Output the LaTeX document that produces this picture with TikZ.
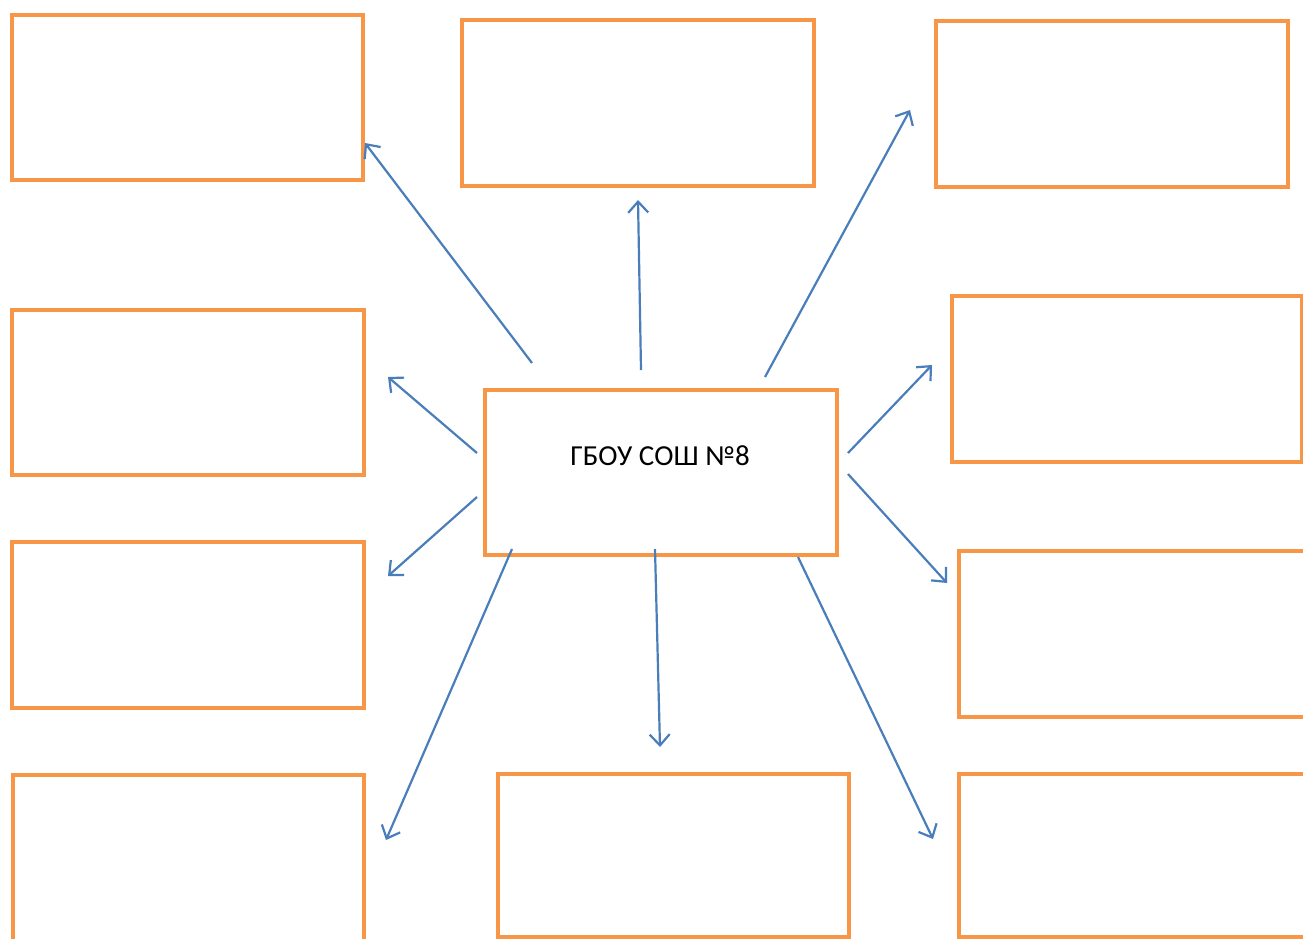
\documentclass[tikz,border=0pt]{standalone}
\usepackage{fontspec}
\setmainfont{Carlito}
\usetikzlibrary{arrows.meta}
\definecolor{boxorange}{HTML}{F79646}
\definecolor{arrowblue}{HTML}{4A7EBB}
\begin{document}
\begin{tikzpicture}[x=1pt,y=-1pt,
  box/.style={draw=boxorange,line width=4pt,fill=white,anchor=north west,inner sep=0pt,minimum width=352pt,minimum height=166pt},
  link/.style={draw=arrowblue,line width=2.2pt,-{Straight Barb[length=11pt,width=20pt,line width=2.2pt]}}]
\useasboundingbox (0,0) rectangle (1303,938);
\clip (0,0) rectangle (1303,938);
\fill[white] (0,0) rectangle (1303,938);
% boxes
\node[box,minimum width=351pt,minimum height=165pt] (b1) at (10,13) {};
\node[box] (b2) at (460,18) {};
\node[box] (b3) at (934,19) {};
\node[box,minimum height=165pt] (b4) at (10,308) {};
\node[box] (b5) at (10,540) {};
\node[box,minimum width=350pt] (b6) at (950,294) {};
\node[box,minimum width=351pt,minimum height=172pt] (b7) at (11,773) {};
\node[box,minimum width=362pt] (b8) at (957,549) {};
\node[box,minimum width=362pt,minimum height=163pt] (b9) at (957,772) {};
\node[box,minimum width=351pt,minimum height=163pt] (b10) at (496,772) {};
\node[box,minimum height=165pt] (c) at (483,388) {};
\node[font=\fontsize{29}{34}\selectfont,inner sep=0pt] (ct) at (660,456) {ГБОУ СОШ №8};
% arrow ends
\coordinate (s1) at (532,363); \coordinate (e1) at (365,143);
\coordinate (s2) at (641,370); \coordinate (e2) at (638,200);
\coordinate (s3) at (765,377); \coordinate (e3) at (910,110);
\coordinate (s4) at (477,453); \coordinate (e4) at (388,377);
\coordinate (s5) at (477,497); \coordinate (e5) at (388,576);
\coordinate (s6) at (512,549); \coordinate (e6) at (386,840);
\coordinate (s7) at (655,549); \coordinate (e7) at (660,747);
\coordinate (s8) at (798,557); \coordinate (e8) at (933,839);
\coordinate (s9) at (848,453); \coordinate (e9) at (932,365);
\coordinate (s10) at (848,474); \coordinate (e10) at (947,583);
\foreach \i in {1,...,10} {\draw[link] (s\i) -- (e\i);}
\end{tikzpicture}
\end{document}
